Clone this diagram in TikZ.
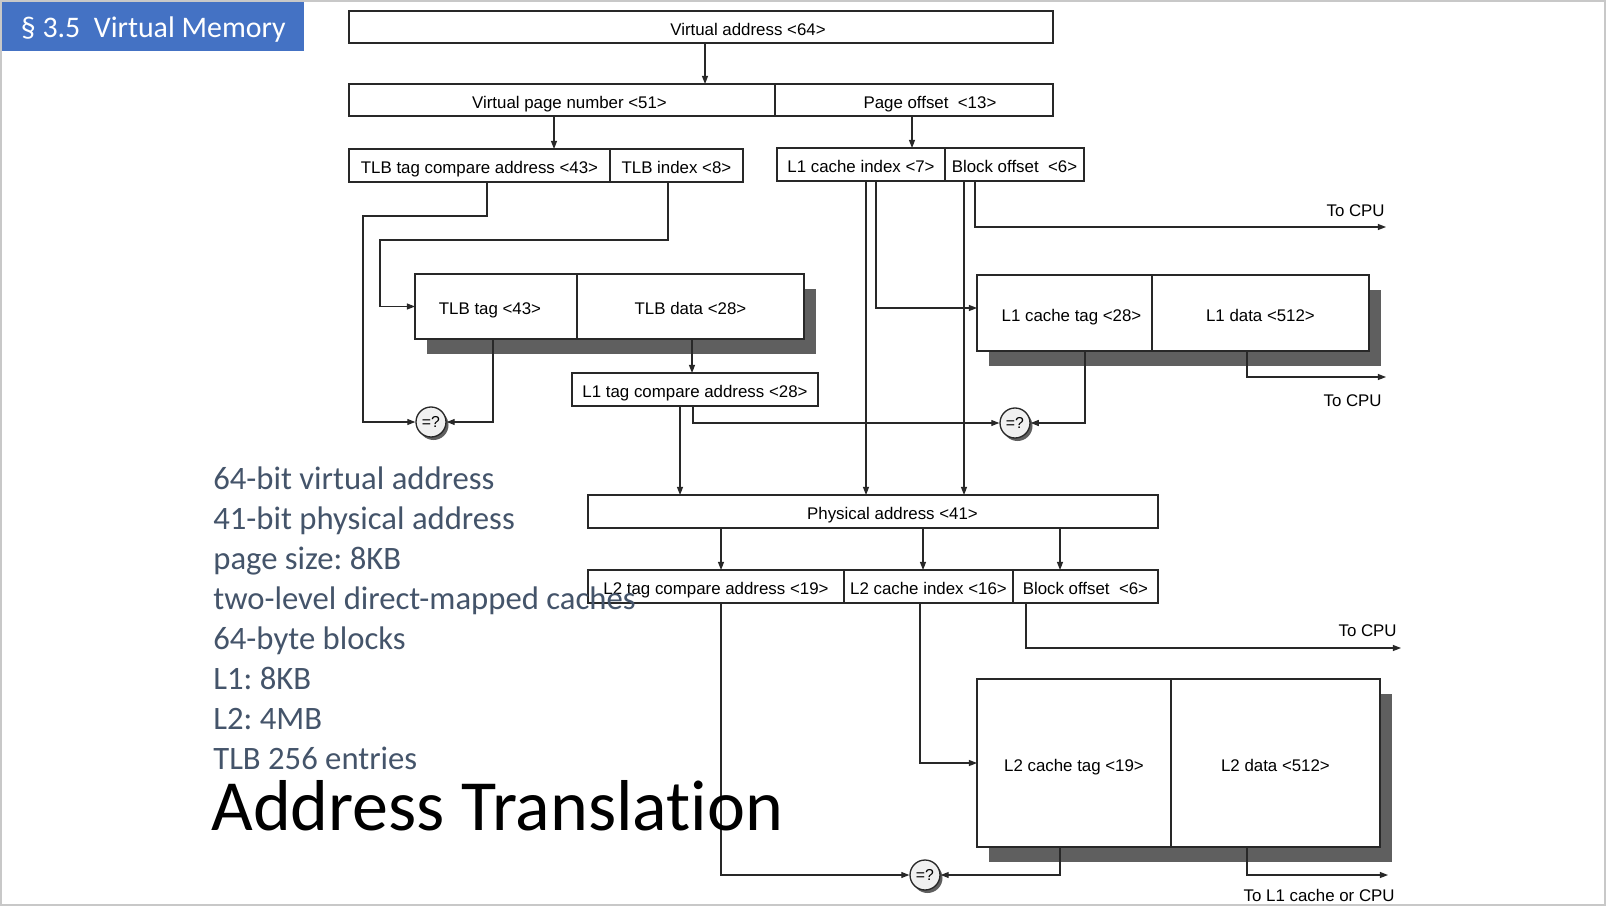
\documentclass[tikz,border=0pt]{standalone}
\usepackage{fontspec}
\setmainfont{Liberation Sans}
\newfontfamily\slidefont{Carlito}[Ligatures=NoCommon]
\usetikzlibrary{arrows.meta,positioning,shadows}
\definecolor{slideblue}{RGB}{68,114,196}
\definecolor{slidetext}{RGB}{68,84,106}
\definecolor{wiregray}{RGB}{40,40,40}
\definecolor{shdgray}{RGB}{95,95,95}
\definecolor{framegray}{RGB}{200,200,200}
\frenchspacing
\tikzset{
  fld/.style={draw=wiregray, line width=0.75pt, fill=white, inner sep=0pt, outer sep=0pt,
              text height=9.2pt, text depth=0pt, minimum height=0.66cm, font=\fontsize{9.6}{11}\selectfont},
  memblk/.style={fld, drop shadow={shadow xshift=0.24cm, shadow yshift=-0.30cm, fill=shdgray, opacity=1}},
  cmpnode/.style={circle, draw=wiregray, line width=0.75pt, fill=gray!12, minimum size=0.6cm, inner sep=0pt,
                  font=\fontsize{9}{10}\selectfont,
                  drop shadow={shadow xshift=0.05cm, shadow yshift=-0.06cm, fill=shdgray, opacity=1}},
  wirearr/.style={-{Triangle[length=4.6pt,width=3.4pt]}, wiregray, line width=0.65pt},
  lbl/.style={inner sep=0pt, font=\fontsize{9.6}{11}\selectfont},
  note/.style={inner sep=0pt, anchor=base west, slidetext, font=\slidefont\fontsize{18.6}{22}\selectfont},
}

\begin{document}
\begin{tikzpicture}[x=0.02cm, y=-0.02cm]
  \useasboundingbox (0,0) rectangle (1606,906);
  \fill[white] (0,0) rectangle (1606,906);
  \draw[framegray, line width=1.7pt] (1,1) rectangle (1605,905);
  \node[fill=slideblue, text=white, minimum width=6.04cm, minimum height=0.98cm, inner sep=0pt, text depth=0pt,
        anchor=north west, font=\slidefont\fontsize{17}{20}\selectfont] (hdr) at (2,2) {§ 3.5\ \ Virtual Memory};

  \node[fld, minimum width=14.08cm, minimum height=0.64cm] (va) at (701,27) {\hspace*{1.88cm}Virtual address <64>};
  \node[fld, minimum width=8.52cm, minimum height=0.64cm] (vpn) at (562,100) {\hspace*{0.3cm}Virtual page number <51>};
  \node[fld, minimum width=5.56cm, minimum height=0.64cm, right=0pt of vpn] (poff) {\hspace*{0.64cm}Page offset\ \ <13>};

  \node[fld, minimum width=5.22cm] (tlbc) at (479.5,165.5) {TLB tag compare address <43>};
  \node[fld, minimum width=2.66cm, right=0pt of tlbc] (tlbi) {TLB index <8>};
  \node[fld, minimum width=3.36cm] (l1i) at (861,164.5) {L1 cache index <7>};
  \node[fld, minimum width=2.78cm, right=0pt of l1i] (l1o) {Block offset\ \ <6>};

  \node[memblk, minimum width=3.24cm, minimum height=1.3cm] (tlbt) at (496,306.5) {\hspace*{-0.24cm}TLB tag <43>};
  \node[memblk, minimum width=4.54cm, minimum height=1.3cm, right=0pt of tlbt] (tlbd) {TLB data <28>};
  \node[fld, minimum width=4.92cm] (l1c) at (695,389.5) {L1 tag compare address <28>};

  \node[memblk, minimum width=3.5cm, minimum height=1.52cm] (l1t) at (1064.5,313) {\hspace*{0.28cm}L1 cache tag <28>};
  \node[memblk, minimum width=4.34cm, minimum height=1.52cm, right=0pt of l1t] (l1d) {L1 data <512>};

  \node[fld, minimum width=11.4cm] (pa) at (873,511.5) {\hspace*{0.78cm}Physical address <41>};
  \node[fld, minimum width=5.12cm] (l2c) at (716,586.5) {L2 tag compare address <19>};
  \node[fld, minimum width=3.38cm, right=0pt of l2c] (l2i) {L2 cache index <16>};
  \node[fld, minimum width=2.9cm, right=0pt of l2i] (l2o) {Block offset\ \ <6>};

  \node[memblk, minimum width=3.88cm, minimum height=3.36cm] (l2t) at (1074,763) {L2 cache tag <19>};
  \node[memblk, minimum width=4.18cm, minimum height=3.36cm, right=0pt of l2t] (l2d) {L2 data <512>};

  \node[cmpnode] (cmpa) at (431,422) {=?};
  \node[cmpnode] (cmpb) at (1015,423) {=?};
  \node[cmpnode] (cmpc) at (925,875) {=?};

  \coordinate (cpua) at (1386,227);
  \coordinate (cpub) at (1386,377);
  \coordinate (cpuc) at (1401,648);
  \coordinate (cpud) at (1388,875);
  \node[lbl, anchor=east] (tocpua) at (1385,211) {To CPU};
  \node[lbl, anchor=east] (tocpub) at (1382,401) {To CPU};
  \node[lbl, anchor=east] (tocpuc) at (1397,631) {To CPU};
  \node[lbl, anchor=east] (tol1) at (1395,895) {To L1 cache or CPU};

  \draw[wirearr] (va.south -| 705,0) -- (vpn.north -| 705,0);
  \draw[wirearr] (vpn.south -| 554,0) -- (tlbc.north -| 554,0);
  \draw[wirearr] (poff.south -| 912,0) -- (l1i.north -| 912,0);
  \draw[wirearr] (tlbc.south -| 487,0) |- (363,216) |- (cmpa.west);
  \draw[wirearr] (tlbi.south -| 668,0) |- (380,240) |- (tlbt.west);
  \draw[wirearr] (tlbt.south -| 493,0) |- (cmpa.east);
  \draw[wirearr] (tlbd.south -| 692,0) -- (l1c.north -| 692,0);
  \draw[wirearr] (l1c.south -| 680,0) -- (pa.north -| 680,0);
  \draw[wirearr] (l1c.south -| 693,0) |- (cmpb.west);
  \draw[wirearr] (l1t.south -| 1085,0) |- (cmpb.east);
  \draw[wirearr] (l1i.south -| 866,0) -- (pa.north -| 866,0);
  \draw[wirearr] (l1i.south -| 876,0) |- (l1t.west |- 0,308);
  \draw[wirearr] (l1o.south -| 964,0) -- (pa.north -| 964,0);
  \draw[wirearr] (l1o.south -| 975,0) |- (cpua);
  \draw[wirearr] (l1d.south -| 1247,0) |- (cpub);
  \draw[wirearr] (pa.south -| 721,0) -- (l2c.north -| 721,0);
  \draw[wirearr] (pa.south -| 923,0) -- (l2i.north -| 923,0);
  \draw[wirearr] (pa.south -| 1060,0) -- (l2o.north -| 1060,0);
  \draw[wirearr] (l2c.south -| 721,0) |- (cmpc.west);
  \draw[wirearr] (l2i.south -| 920,0) |- (l2t.west);
  \draw[wirearr] (l2o.south -| 1026,0) |- (cpuc);
  \draw[wirearr] (l2t.south -| 1060,0) |- (cmpc.east);
  \draw[wirearr] (l2d.south -| 1247,0) |- (cpud);

  \foreach \t [count=\i] in {64-bit virtual address, 41-bit physical address, page size: 8KB,
      two-level direct-mapped caches, 64-byte blocks, L1: 8KB, L2: 4MB, TLB 256 entries}
    \node[note] (fact\i) at (213,449+40*\i) {\t};
  \node[inner sep=0pt, anchor=base west, font=\slidefont\fontsize{41}{48}\selectfont] (title) at (211,830) {Address Translation};
\end{tikzpicture}
\end{document}
